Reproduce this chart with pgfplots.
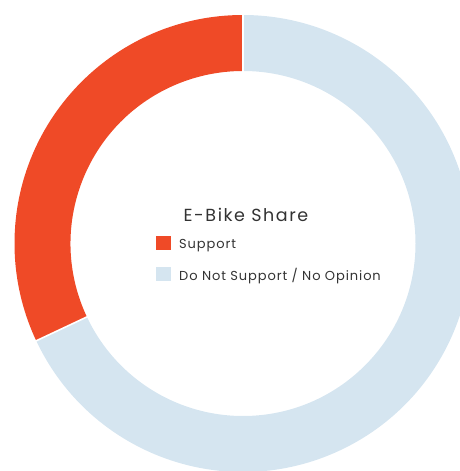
\documentclass[border=0pt]{standalone}
\usepackage{pgfplots}
\pgfplotsset{compat=1.18}
\usepackage{pgfplotstable}
\usepackage{fontspec}
\setmainfont{Poppins}
\newfontfamily\titlefont[LetterSpace=9]{Poppins}
\newfontfamily\legfont[LetterSpace=7]{Poppins}
\definecolor{supp}{HTML}{EF4A27}
\definecolor{nosupp}{HTML}{D5E5F0}
\definecolor{txt}{HTML}{333333}
\pgfplotstableread{
label value
Support 32
Other 68
}\data
\begin{document}
\begin{tikzpicture}
\pgfplotstablegetelem{0}{value}\of\data \pgfmathsetmacro\va{\pgfplotsretval}
\pgfplotstablegetelem{1}{value}\of\data \pgfmathsetmacro\vb{\pgfplotsretval}
\pgfmathsetmacro\tot{\va+\vb}
\pgfmathsetmacro\aA{90}
\pgfmathsetmacro\aB{90+360*\va/\tot}
\pgfmathsetmacro\aC{450}
\def\cx{243}\def\cy{227.5}\def\R{228.5}\def\r{172.5}
\begin{axis}[hide axis, scale only axis, width=460pt, height=471pt,
  xmin=0, xmax=460, ymin=0, ymax=471, clip=true]
\fill[supp] (axis cs:{\cx+\R*cos(\aA)},{\cy+\R*sin(\aA)}) arc[start angle=\aA, end angle=\aB, radius=\R pt]
  -- (axis cs:{\cx+\r*cos(\aB)},{\cy+\r*sin(\aB)}) arc[start angle=\aB, end angle=\aA, radius=\r pt] -- cycle;
\fill[nosupp] (axis cs:{\cx+\R*cos(\aB)},{\cy+\R*sin(\aB)}) arc[start angle=\aB, end angle=\aC, radius=\R pt]
  -- (axis cs:{\cx+\r*cos(\aC)},{\cy+\r*sin(\aC)}) arc[start angle=\aC, end angle=\aB, radius=\r pt] -- cycle;
\draw[white, line width=1.6pt] (axis cs:{\cx+(\r-2)*cos(\aA)},{\cy+(\r-2)*sin(\aA)}) -- (axis cs:{\cx+(\R+2)*cos(\aA)},{\cy+(\R+2)*sin(\aA)});
\draw[white, line width=1.6pt] (axis cs:{\cx+(\r-2)*cos(\aB)},{\cy+(\r-2)*sin(\aB)}) -- (axis cs:{\cx+(\R+2)*cos(\aB)},{\cy+(\R+2)*sin(\aB)});
\node[txt, font=\titlefont\fontsize{17.5}{20}\selectfont] at (axis cs:246,256) {E-Bike Share};
\fill[supp] (axis cs:156,221) rectangle (axis cs:171,235);
\fill[nosupp] (axis cs:156,190) rectangle (axis cs:171,204);
\node[txt, anchor=west, inner sep=0pt, font=\legfont\fontsize{13}{15}\selectfont] at (axis cs:179,225.5) {Support};
\node[txt, anchor=west, inner sep=0pt, font=\legfont\fontsize{13}{15}\selectfont] at (axis cs:179,195) {Do Not Support / No Opinion};
\end{axis}
\pgfresetboundingbox
\useasboundingbox (current axis.south west) rectangle (current axis.north east);
\end{tikzpicture}
\end{document}
